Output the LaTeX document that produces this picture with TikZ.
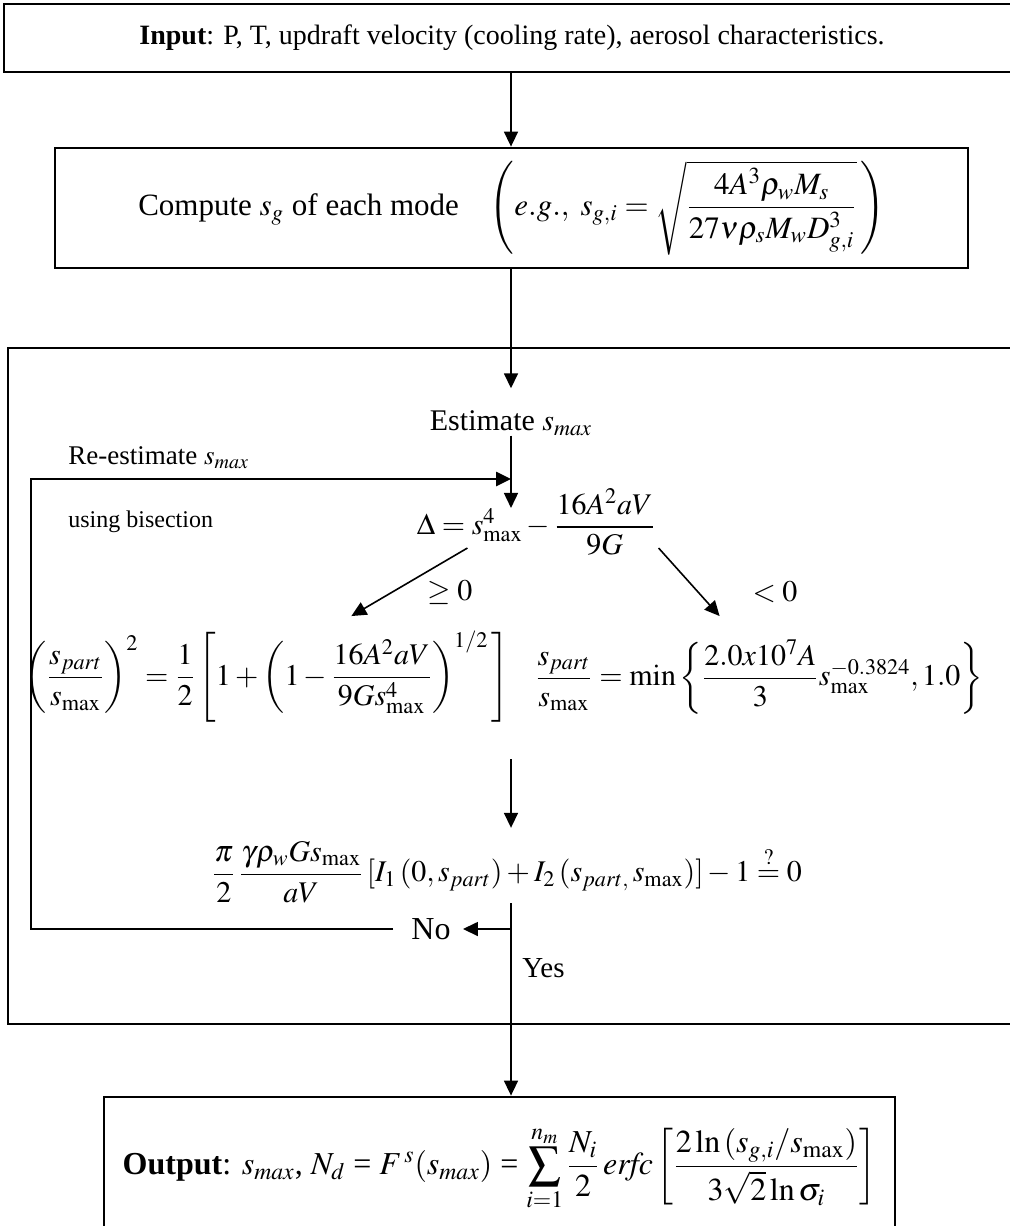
\documentclass[tikz,border=0pt]{standalone}
\usepackage{amsmath}
\usepackage{mathptmx}
\usepackage[no-math]{fontspec}
\setmainfont{Liberation Serif}
\usetikzlibrary{arrows.meta,positioning,calc}

\newcommand{\fs}[1]{\fontsize{#1}{#1}\selectfont}

\begin{document}
\begin{tikzpicture}[
    x=0.5pt,
    y=-0.5pt,
    box/.style={rectangle, draw, line width=1.4pt, inner sep=0pt},
    txt/.style={inner sep=0pt, font=\fs{15}},
    arr/.style={-{Triangle[length=7.5pt,width=7pt]}, line width=0.8pt},
    loopline/.style={-{Triangle[length=7.5pt,width=7pt]}, line width=1.3pt}
  ]
    \useasboundingbox (0,0) rectangle (1009,1226);
    \coordinate (axis) at (511,0);

    % boxes
    \node[box, minimum width=508pt, minimum height=34pt, font=\fs{14}] (input) at (512,38) {\textbf{Input}: P, T, updraft velocity (cooling rate), aerosol characteristics.};
    \node[box, minimum width=456.5pt, minimum height=60pt, font=\fs{15.5}] (sg) at (511.5,208) {Compute $s_g$ of each mode\quad $\left(\mathit{e.g.},\ s_{g,i}=\sqrt{\dfrac{4A^3\rho_w M_s}{27\nu\rho_s M_w D^3_{g,i}}}\,\right)$};
    \node[box, minimum width=506pt, minimum height=338pt] (iter) at (514,686) {};
    \node[box, minimum width=395.5pt, minimum height=71.5pt, font=\fs{16}] (output) at (499.5,1168.5) {\textbf{Output}: $s_{max}$, $N_d$ = $F^{\,s}(s_{max})$ = $\displaystyle\sum_{i=1}^{n_m}\frac{N_i}{2}\,\mathit{erfc}\left[\frac{2\ln\left(s_{g,i}/s_{\max}\right)}{3\sqrt{2}\ln\sigma_i}\right]$};

    % texts inside the iteration
    \node[txt] (est) at (511,423) {Estimate $s_{max}$};
    \node[txt, anchor=west, font=\fs{13.5}] (reest) at (68,458) {Re-estimate $s_{max}$};
    \node[txt, anchor=west, font=\fs{12}] (bisect) at (68,522) {using bisection};
    \node[txt] (delta) at (536,522) {$\Delta = s^4_{\max}-\dfrac{16A^2aV}{9G}$};
    \node[txt] (geq) at (450,592) {$\geq 0$};
    \node[txt] (lt) at (775,592) {$<0$};
    \node[txt] (lefteq) at (267,677) {$\left(\dfrac{s_{part}}{s_{\max}}\right)^{2}=\dfrac{1}{2}\left[1+\left(1-\dfrac{16A^2aV}{9Gs^4_{\max}}\right)^{1/2}\,\right]$};
    \node[txt] (righteq) at (759,677) {$\dfrac{s_{part}}{s_{\max}}=\min\left\{\dfrac{2.0x10^7A}{3}s^{-0.3824}_{\max},1.0\right\}$};
    \node[txt] (check) at (507,872) {$\dfrac{\pi}{2}\,\dfrac{\gamma\rho_w Gs_{\max}}{aV}\left[I_1\left(0,s_{part}\right)+I_2\left(s_{part,}\,s_{\max}\right)\right]-1\overset{?}{=}0$};
    \node[txt, font=\fs{16}] (no) at (431,929) {No};
    \node[txt, anchor=west, font=\fs{14.5}] (yes) at (522,968) {Yes};

    \coordinate (corner) at (31,929);
    \coordinate (merge) at (511,479);

    % connectors
    \draw[arr] (input.south -| axis) -- (sg.north -| axis);
    \draw[arr] (sg.south -| axis) -- ($(est.north -| axis)+(0,-22)$);
    \draw[arr] (est.south -| axis) -- ($(delta.north -| axis)+(0,20)$);
    \draw[arr] ($(delta.south west)+(51,-8)$) -- ++(-116,68);
    \draw[arr] ($(delta.south east)+(3,-8)$) -- ++(61,68);
    \draw[arr] ($(lefteq.south -| axis)+(0,36)$) -- ($(check.north -| axis)+(0,-13)$);
    \draw[arr] (check.south -| axis) -- (output.north -| axis);
    \draw[arr] (no.east -| axis) -- ($(no.east)+(12,0)$);
    \draw[loopline] ($(no.west)+(-18,0)$) -- (corner) |- (merge);
  \end{tikzpicture}
\end{document}
